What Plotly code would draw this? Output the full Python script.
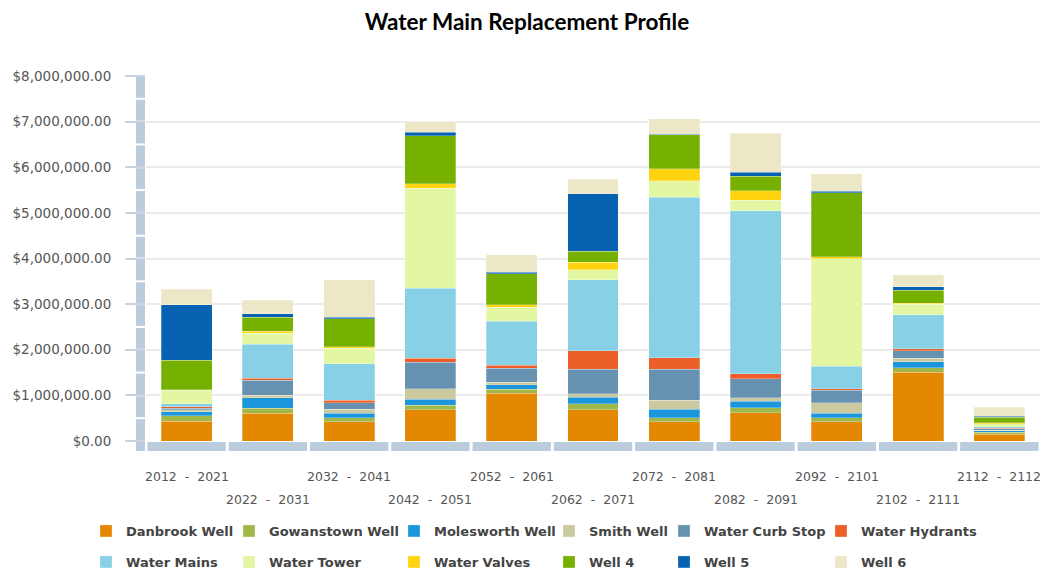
import plotly.graph_objects as go

categories = ["2012 - 2021", "2022 - 2031", "2032 - 2041", "2042 - 2051", "2052 - 2061",
              "2062 - 2071", "2072 - 2081", "2082 - 2091", "2092 - 2101", "2102 - 2111",
              "2112 - 2112"]

danbrook_well = [430000, 607000, 423000, 680000, 1046000, 680000, 420000, 620000, 420000, 1510000, 146000]
gowanstown_well = [125000, 116000, 88000, 103000, 88000, 140000, 88000, 110000, 88000, 100000, 44000]
molesworth_well = [88000, 226000, 95000, 130000, 95000, 140000, 190000, 146000, 95000, 130000, 35000]
smith_well = [44000, 50000, 88000, 230000, 58000, 73000, 190000, 73000, 240000, 73000, 15000]
water_curb_stop = [30000, 330000, 146000, 580000, 310000, 540000, 680000, 420000, 270000, 160000, 30000]
water_hydrants = [37000, 44000, 58000, 95000, 66000, 410000, 255000, 110000, 30000, 50000, 10000]
water_mains = [66000, 746000, 800000, 1535000, 960000, 1550000, 3520000, 3570000, 500000, 740000, 35000]
water_tower = [290000, 240000, 340000, 2190000, 310000, 220000, 360000, 230000, 2355000, 230000, 66000]
water_valves = [15000, 44000, 30000, 100000, 58000, 160000, 260000, 210000, 36000, 30000, 20000]
well_4 = [650000, 310000, 610000, 1050000, 680000, 250000, 750000, 310000, 1410000, 280000, 120000]
well_5 = [1210000, 80000, 30000, 73000, 30000, 1260000, 15000, 88000, 30000, 80000, 20000]
well_6 = [340000, 290000, 830000, 235000, 380000, 310000, 330000, 860000, 380000, 260000, 200000]

series_names = ["Danbrook Well", "Gowanstown Well", "Molesworth Well", "Smith Well",
                "Water Curb Stop", "Water Hydrants", "Water Mains", "Water Tower",
                "Water Valves", "Well 4", "Well 5", "Well 6"]
series_values = [danbrook_well, gowanstown_well, molesworth_well, smith_well,
                 water_curb_stop, water_hydrants, water_mains, water_tower,
                 water_valves, well_4, well_5, well_6]
series_colors = ["#E38800", "#A0B84A", "#1B96DC", "#CBC9A0", "#6791B0", "#EC5F28",
                 "#88D0E5", "#E3F7A3", "#FFD30F", "#76B000", "#0762B1", "#ECE7C7"]

y_ticks = [0, 1000000, 2000000, 3000000, 4000000, 5000000, 6000000, 7000000, 8000000]

W, H = 1045, 572
# legend layout: swatch centre x and row centre y (pixels)
legend_cols = [106, 249, 414, 569, 684, 841]
legend_rows = [531, 562]

fig = go.Figure()
for i, (name, vals, col) in enumerate(zip(series_names, series_values, series_colors)):
    lg = "legend" if i == 0 else f"legend{i + 1}"
    fig.add_trace(go.Bar(
        x=categories, y=vals, name=name,
        marker=dict(color=col, line=dict(width=0.6, color="rgba(255,255,255,0.45)")),
        legend=lg,
    ))

axis_col = "#BBCCDC"
shapes = []
# segmented x-axis bar under each category
for i, c in enumerate(categories):
    shapes.append(dict(type="rect", xref="x", yref="paper",
                       x0=i - 0.5 + 0.018, x1=i + 0.5 - 0.018,
                       ysizemode="pixel", yanchor=0, y0=-1, y1=-10,
                       fillcolor=axis_col, line=dict(width=0), layer="above"))
# corner block
shapes.append(dict(type="rect", xref="paper", yref="paper",
                   xsizemode="pixel", xanchor=0, x0=-10, x1=-1,
                   ysizemode="pixel", yanchor=0, y0=-1, y1=-10,
                   fillcolor=axis_col, line=dict(width=0), layer="above"))
# segmented y-axis bar
seg = 500000
gap = 22000
for k in range(16):
    shapes.append(dict(type="rect", xref="paper", yref="y",
                       xsizemode="pixel", xanchor=0, x0=-10, x1=-1,
                       y0=k * seg + gap, y1=(k + 1) * seg - gap,
                       fillcolor=axis_col, line=dict(width=0), layer="above"))

annotations = []
for i, c in enumerate(categories):
    annotations.append(dict(
        x=c, xref="x", y=0, yref="paper", yanchor="middle", xanchor="center",
        yshift=-35 if i % 2 == 0 else -58, showarrow=False,
        text=c.replace(" - ", "\u00a0\u00a0-\u00a0\u00a0"),
        font=dict(family="DejaVu Sans", size=12.5, color="#555555"),
    ))

layout_legends = {}
for i in range(12):
    key = "legend" if i == 0 else f"legend{i + 1}"
    cx = legend_cols[i % 6]
    cy = legend_rows[i // 6]
    layout_legends[key] = dict(
        xref="container", yref="container",
        x=(cx - 20) / W, y=1 - cy / H, xanchor="left", yanchor="middle",
        orientation="v", bgcolor="rgba(0,0,0,0)", borderwidth=0,
        font=dict(family="DejaVu Sans", size=13, color="#444444", weight="bold"),
        itemclick=False, itemdoubleclick=False,
    )

fig.update_layout(
    width=W, height=H,
    barmode="stack", bargap=0.373,
    paper_bgcolor="white", plot_bgcolor="white",
    margin=dict(l=146, r=5, t=76, b=131, autoexpand=False),
    title=dict(text="<b>Water Main Replacement Profile</b>", x=527 / W, xanchor="center",
               xref="container", y=1 - 22 / H, yref="container", yanchor="middle",
               font=dict(family="Lato", size=22.5, color="#000000")),
    xaxis=dict(type="category", categoryorder="array", categoryarray=categories,
               range=[-0.5, len(categories) - 0.5],
               showticklabels=False, showgrid=False, showline=False, zeroline=False,
               ticks=""),
    yaxis=dict(range=[0, 8000000], tickvals=y_ticks, tickformat="$,.2f",
               showgrid=True, gridcolor="#EBEBEB", gridwidth=1.5, zeroline=False,
               showline=False, ticks="outside", ticklen=20, tickcolor="#C8D4E0",
               tickwidth=1.5, ticklabelstandoff=11,
               tickfont=dict(family="DejaVu Sans", size=13.5, color="#555555")),
    shapes=shapes, annotations=annotations,
    showlegend=True,
    **layout_legends,
)

fig.write_html("out.html", config={"displayModeBar": False},
               post_script="document.body.style.margin='0';")
